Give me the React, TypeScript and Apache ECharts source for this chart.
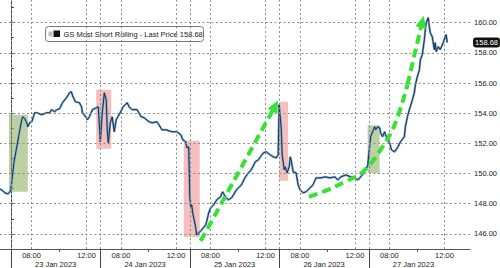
import React, { useEffect, useRef } from 'react';
import * as echarts from 'echarts';

// x values are trading hours elapsed since the 23 Jan 2023 session open (06:30),
// every session lasting 6.5 hours (06:30 - 13:00)
const SESSION = 6.5;
const X_MIN = -0.79;
const X_MAX = 33.36;
const Y_MIN = 145;
const Y_MAX = 161.5;

const dayLabels = ['23 Jan 2023', '24 Jan 2023', '25 Jan 2023', '26 Jan 2023', '27 Jan 2023'];
const hourLabels = ['08:00', '12:00'];
const hourOffsets = [1.5, 5.5];
const minorTickOffsets = [3.5];
const yLabelValues = [146, 148, 150, 152, 154, 156, 158, 160];
const yTickValues = [146, 147, 148, 149, 150, 151, 152, 153, 154, 155, 156, 157, 158, 159, 160, 161];
const lastPrice = 158.68;
const legendText = 'GS Most Short Rolling - Last Price 158.68';

const priceTimes = [
  -0.79, -0.58, -0.43, -0.22, -0.07, 0.0, 0.22, 0.43, 0.65, 0.79, 0.87, 1.01, 1.16, 1.23, 1.37, 1.52,
  1.73, 1.88, 2.24, 2.6, 2.82, 2.96, 3.18, 3.32, 3.54, 3.75, 4.04, 4.26, 4.4, 4.48, 4.69, 4.98, 5.13,
  5.2, 5.49, 5.56, 5.7, 5.92, 6.21, 6.35, 6.5, 6.64, 6.79, 6.93, 7.0, 7.08, 7.22, 7.36, 7.51, 7.65,
  7.94, 8.16, 8.45, 8.59, 8.81, 9.17, 9.46, 9.68, 10.04, 10.25, 10.61, 10.76, 10.97, 11.26, 11.7,
  12.06, 12.35, 12.49, 12.71, 12.78, 12.92, 13.0, 13.07, 13.14, 13.21, 13.36, 13.43, 13.5, 13.65,
  13.86, 14.15, 14.22, 14.37, 14.51, 14.73, 14.95, 15.23, 15.38, 15.6, 15.81, 16.03, 16.17, 16.39,
  16.75, 17.04, 17.26, 17.47, 17.76, 17.98, 18.34, 18.56, 18.84, 19.06, 19.28, 19.42, 19.49, 19.64,
  19.71, 19.86, 19.93, 20.07, 20.22, 20.29, 20.36, 20.51, 20.72, 20.87, 21.01, 21.23, 21.44, 21.73,
  21.95, 22.17, 22.53, 22.82, 23.18, 23.54, 23.75, 23.97, 24.33, 24.69, 24.98, 25.2, 25.42, 25.7,
  25.92, 26.06, 26.14, 26.28, 26.43, 26.5, 26.64, 26.79, 26.86, 27.0, 27.15, 27.22, 27.36, 27.51,
  27.65, 27.87, 28.09, 28.3, 28.59, 28.66, 28.81, 28.95, 29.17, 29.31, 29.39, 29.53, 29.68, 29.75,
  29.89, 30.04, 30.11, 30.18, 30.32, 30.4, 30.47, 30.61, 30.76, 30.83, 30.9, 31.05, 31.19, 31.41,
  31.55, 31.62, 31.7,
];
const priceValues = [
  148.98, 148.85, 148.72, 148.65, 148.79, 148.92, 150.71, 151.77, 152.9, 153.56, 153.76, 153.63,
  153.36, 153.1, 153.36, 153.43, 154.03, 154.03, 153.9, 154.03, 154.03, 154.23, 154.09, 154.23,
  154.29, 154.69, 155.02, 155.35, 155.42, 155.16, 154.76, 154.69, 154.43, 154.03, 153.7, 153.56,
  153.76, 154.23, 154.36, 154.43, 152.1, 154.03, 155.35, 154.89, 152.9, 152.04, 153.36, 153.76,
  152.77, 153.56, 154.03, 154.43, 154.69, 154.43, 154.23, 154.23, 153.76, 153.7, 153.43, 153.36,
  153.43, 153.23, 152.9, 152.9, 152.77, 152.77, 152.57, 152.24, 152.1, 151.71, 151.77, 148.45,
  147.79, 147.92, 147.39, 146.73, 146.4, 145.93, 146.07, 146.26, 146.6, 146.79, 147.39, 147.72,
  147.92, 148.25, 148.45, 148.79, 148.45, 148.25, 148.39, 148.59, 148.92, 149.25, 149.78, 150.05,
  150.25, 150.78, 150.91, 151.37, 151.44, 151.24, 151.11, 151.04, 151.24, 154.56, 153.03, 151.24,
  150.25, 150.44, 150.05, 150.44, 151.11, 150.91, 150.11, 150.05, 149.25, 148.92, 148.72, 148.79,
  149.05, 149.25, 149.71, 149.71, 149.78, 149.71, 149.78, 149.58, 149.78, 149.91, 149.78, 149.71,
  149.58, 149.78, 150.11, 150.51, 151.77, 152.44, 152.77, 153.1, 152.9, 153.1, 153.03, 152.7,
  152.44, 152.77, 152.57, 152.24, 152.04, 151.57, 151.44, 151.71, 152.1, 152.44, 153.1, 153.76,
  154.23, 154.89, 155.35, 155.89, 156.42, 156.88, 157.54, 157.88, 158.87, 159.54, 160.0, 160.33,
  159.73, 159.34, 159.07, 158.21, 158.67, 158.08, 158.41, 158.21, 158.67, 159.07, 159.2, 158.68,
];

// highlighted zones
const zoneKinds = ['up', 'down', 'down', 'down', 'up'];
const zoneX0 = [-0.14, 6.2, 12.56, 19.5, 25.92];
const zoneX1 = [1.23, 7.29, 13.72, 20.14, 26.79];
const zoneY0 = [148.8, 151.64, 145.8, 149.52, 150.03];
const zoneY1 = [153.9, 155.55, 152.17, 154.76, 153.19];

// green trend arrows
const arrow1X = [13.79, 19.21];
const arrow1Y = [145.53, 154.49];
const arrow2X = [21.66, 23.03, 24.26, 25.56, 27.0, 27.94, 28.81, 29.89];
const arrow2Y = [148.45, 148.92, 149.45, 150.11, 151.77, 153.36, 155.89, 160.07];

const FONT = 'Liberation Sans, Arial, sans-serif';
const GREEN = '#35e235';

export default function App() {
  const ref = useRef<HTMLDivElement>(null);
  useEffect(() => {
    if (!ref.current) return;
    const chart = echarts.init(ref.current, undefined, { renderer: 'svg' });

    const dayStarts = dayLabels.map((_, i) => i * SESSION);
    const dayCenters = dayLabels.map((_, i) => i * SESSION + SESSION / 2);
    const hourVals: number[] = [];
    const minorVals: number[] = [];
    dayLabels.forEach((_, i) => {
      hourOffsets.forEach((h) => hourVals.push(i * SESSION + h));
      minorTickOffsets.forEach((h) => minorVals.push(i * SESSION + h));
    });
    const vGrid = [...dayStarts, ...hourVals];

    const price = priceTimes.map((t, i) => [t, priceValues[i]]);
    const arrow2Curve = arrow2X.slice(0, -1).map((x, i) => [x, arrow2Y[i]]);
    const n2 = arrow2X.length;

    const hourFormatter = (v: number) => {
      const off = v - Math.floor(v / SESSION + 1e-6) * SESSION;
      const idx = hourOffsets.findIndex((h) => Math.abs(h - off) < 0.01);
      return idx >= 0 ? hourLabels[idx] : '';
    };
    const dayFormatter = (v: number) => {
      const idx = Math.round((v - SESSION / 2) / SESSION);
      return dayLabels[idx] ?? '';
    };

    const labelStyle = { fontSize: 7.5, color: '#222', fontFamily: FONT };

    const gridLines = [
      ...vGrid.map((v) => [{ coord: [v, Y_MIN] }, { coord: [v, Y_MAX] }]),
      ...yLabelValues.map((v) => [{ coord: [X_MIN, v] }, { coord: [X_MAX, v] }]),
    ];

    chart.setOption({
      animation: false,
      backgroundColor: '#ffffff',
      grid: { left: 0, right: 27, top: 0, bottom: 19, containLabel: false },
      xAxis: [
        {
          type: 'value',
          min: X_MIN,
          max: X_MAX,
          position: 'bottom',
          axisLine: { show: true, lineStyle: { color: '#555', width: 1 } },
          axisTick: { show: true, customValues: minorVals, length: 3, lineStyle: { color: '#555' } },
          axisLabel: { show: true, customValues: hourVals, formatter: hourFormatter, margin: 2, ...labelStyle },
          splitLine: { show: false },
        },
        {
          type: 'value',
          min: X_MIN,
          max: X_MAX,
          position: 'bottom',
          offset: 0,
          axisLine: { show: false },
          axisTick: { show: true, customValues: dayStarts, length: 19, lineStyle: { color: '#444', width: 1 } },
          axisLabel: { show: true, customValues: dayCenters, formatter: dayFormatter, margin: 11, ...labelStyle },
          splitLine: { show: false },
        },
      ],
      yAxis: {
        type: 'value',
        position: 'right',
        min: Y_MIN,
        max: Y_MAX,
        axisLine: { show: true, lineStyle: { color: '#444', width: 1 } },
        axisTick: { show: true, customValues: yTickValues, length: 3, lineStyle: { color: '#444' } },
        axisLabel: { show: true, customValues: yLabelValues, formatter: (v: number) => v.toFixed(2), margin: 4, ...labelStyle },
        splitLine: { show: false },
      },
      graphic: [
        {
          type: 'group',
          left: 45,
          top: 26,
          children: [
            { type: 'rect', shape: { x: 0, y: 0, width: 158, height: 15, r: 3 }, style: { fill: '#fff', stroke: '#777', lineWidth: 1 } },
            { type: 'rect', shape: { x: 3, y: 5, width: 4, height: 5 }, style: { fill: '#bdbdbd' } },
            { type: 'rect', shape: { x: 8, y: 4, width: 6.5, height: 6.5 }, style: { fill: '#111' } },
            { type: 'text', x: 18, y: 7.5, style: { text: legendText, fontSize: 7.5, fill: '#222', verticalAlign: 'middle', fontFamily: FONT } },
          ],
        },
      ],
      series: [
        {
          name: 'grid',
          type: 'line',
          data: [],
          z: 1,
          silent: true,
          markLine: {
            silent: true,
            symbol: 'none',
            label: { show: false },
            lineStyle: { color: '#8c8c8c', type: [2, 2.5], width: 1, opacity: 1 },
            emphasis: { disabled: true },
            data: gridLines,
          },
          markArea: {
            silent: true,
            data: zoneKinds.map((k, i) => [
              {
                xAxis: zoneX0[i],
                yAxis: zoneY0[i],
                itemStyle: { color: k === 'up' ? 'rgba(135,170,90,0.55)' : 'rgba(240,125,125,0.5)' },
              },
              { xAxis: zoneX1[i], yAxis: zoneY1[i] },
            ]),
          },
        },
        {
          name: 'price-shade',
          type: 'line',
          data: price,
          showSymbol: false,
          symbol: 'none',
          z: 3,
          lineStyle: { color: '#6fa9da', width: 2.2 },
        },
        {
          name: legendText,
          type: 'line',
          data: price,
          showSymbol: false,
          symbol: 'none',
          z: 4,
          lineStyle: { color: '#1b2330', width: 0.9 },
          markLine: {
            silent: true,
            symbol: 'none',
            lineStyle: { color: 'rgba(0,0,0,0)', width: 0 },
            label: {
              show: true,
              position: 'end',
              distance: 3,
              formatter: lastPrice.toFixed(2),
              backgroundColor: '#111',
              color: '#fff',
              padding: [1, 2, 1, 2],
              borderRadius: 3,
              fontSize: 7.5,
              fontFamily: FONT,
            },
            data: [{ yAxis: lastPrice }],
          },
        },
        {
          name: 'trend',
          type: 'line',
          data: arrow2Curve,
          smooth: 0.4,
          showSymbol: false,
          symbol: 'none',
          z: 5,
          lineStyle: { color: GREEN, width: 4, type: [9, 5] },
          markLine: {
            silent: true,
            symbol: ['none', 'triangle'],
            symbolSize: [11, 12],
            label: { show: false },
            lineStyle: { color: GREEN, width: 4, type: [9, 5] },
            itemStyle: { color: GREEN },
            data: [
              [{ coord: [arrow1X[0], arrow1Y[0]] }, { coord: [arrow1X[1], arrow1Y[1]] }],
              [{ coord: [arrow2X[n2 - 2], arrow2Y[n2 - 2]] }, { coord: [arrow2X[n2 - 1], arrow2Y[n2 - 1]] }],
            ],
          },
        },
      ],
    });
    return () => chart.dispose();
  }, []);
  return <div ref={ref} style={{ position: 'absolute', left: 0, top: 0, width: 500, height: 268 }} />;
}
